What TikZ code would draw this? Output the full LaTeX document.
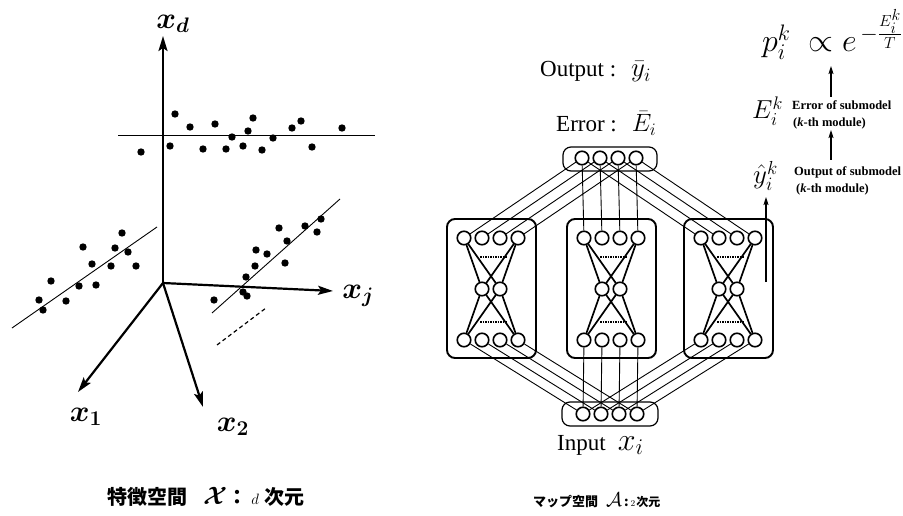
\documentclass[tikz,border=0pt]{standalone}
\usepackage{fix-cm}
\usepackage{amsmath}
\usepackage{fontspec}
\setmainfont{Liberation Serif}
\newfontfamily\cjk{Noto Sans CJK JP}
\usetikzlibrary{arrows.meta}
\tikzset{
  axis/.style={line width=2.2pt,-{Stealth[length=15pt,width=9pt,inset=3pt]}},
  dataline/.style={line width=0.9pt},
  dotmark/.style={fill=black},
  neuron/.style={circle,draw,line width=1.6pt,minimum size=13.5pt,inner sep=0pt},
  modbox/.style={draw,line width=1.9pt,rounded corners=8pt,inner sep=0pt},
  layerbox/.style={draw,line width=1.2pt,rounded corners=8pt,inner sep=0pt},
  conn/.style={line width=0.9pt},
  xconn/.style={line width=1.7pt},
  dotsep/.style={line width=1.4pt,dash pattern=on 1.5pt off 1pt},
  uparrow/.style={line width=1.2pt,-{Stealth[length=8pt,width=5pt,inset=1.5pt]}},
  axlabel/.style={font=\fontsize{30}{32}\selectfont,inner sep=0pt},
  biglabel/.style={font=\fontsize{23}{26}\selectfont,inner sep=0pt},
  smalltxt/.style={font=\fontsize{12.5}{14}\selectfont\bfseries,inner sep=0pt,anchor=base west}
}
\begin{document}
\begin{tikzpicture}[x=1pt,y=-1pt]
\useasboundingbox[fill=white] (0,0) rectangle (903,516);

% ---------- left: feature space ----------
\coordinate (O) at (163,283);
\coordinate (xdtip) at (163,36);
\coordinate (xjtip) at (333,291);
\coordinate (x1tip) at (78,392);
\coordinate (x2tip) at (203,407);
\draw[axis] (O) -- (xdtip);
\draw[axis] (O) -- (xjtip);
\draw[axis] (O) -- (x1tip);
\draw[axis] (O) -- (x2tip);
\node[axlabel] (lxd) at (173,24) {$\boldsymbol{x_d}$};
\node[axlabel] (lxj) at (358,296) {$\boldsymbol{x_j}$};
\node[axlabel] (lx1) at (86,417) {$\boldsymbol{x_1}$};
\node[axlabel] (lx2) at (233,427) {$\boldsymbol{x_2}$};

\coordinate (h1) at (118,135); \coordinate (h2) at (375,135);
\coordinate (l1) at (12,328);  \coordinate (l2) at (157,227);
\coordinate (r1) at (212,313); \coordinate (r2) at (340,199);
\coordinate (d1) at (217,345); \coordinate (d2) at (266,308);
\draw[dataline] (h1) -- (h2);
\draw[dataline] (l1) -- (l2);
\draw[dataline] (r1) -- (r2);
\draw[line width=1.2pt,dash pattern=on 4pt off 3pt] (d1) -- (d2);

\foreach \p in {(175,114),(190,127),(215,124),(253,118),(248,131),(232,137),(292,128),(301,121),(342,128),(273,138),(141,152),(170,146),(203,149),(226,149),(243,146),(262,150),(312,147),
  (122,233),(83,247),(115,248),(128,252),(92,264),(111,266),(136,266),(51,281),(79,286),(96,285),(39,300),(66,301),(43,310),
  (321,219),(305,226),(279,228),(317,232),(287,241),(256,250),(267,254),(255,266),(285,263),(246,277),(243,292),(247,296),(214,300)}
  \fill[dotmark] \p circle (3.7);

\node[font=\fontsize{20}{24}\selectfont,inner sep=0pt,anchor=west] (capL) at (107,497)
  {{\cjk\bfseries 特徴空間}\hspace{16pt}{\fontsize{25}{26}\selectfont$\boldsymbol{\mathcal{X}}$}{\cjk\bfseries ：}\hspace{4pt}{\fontsize{15}{16}\selectfont$d$}\hspace{6pt}{\cjk\bfseries 次元}};

% ---------- right: modular network ----------
\node[layerbox,minimum width=94pt,minimum height=24pt] (Ebox) at (610,159) {};
\node[layerbox,minimum width=96pt,minimum height=24pt] (Ibox) at (610,414) {};
\foreach \i/\x in {1/582,2/600,3/618,4/636}{
  \node[neuron] (E\i) at (\x,158) {};
  \node[neuron] (I\i) at (\x+1,414) {};
}
\foreach \m/\b in {L/464,M/584,R/701}{
  \node[modbox,minimum width=89pt,minimum height=139pt] (\m box) at (\b+27.5,288.5) {};
  \foreach \i in {1,2,3,4}{
    \node[neuron] (\m t\i) at ({\b+18*(\i-1)},238) {};
    \node[neuron] (\m b\i) at ({\b+18*(\i-1)},340) {};
  }
  \node[neuron] (\m c1) at (\b+18,289) {};
  \node[neuron] (\m c2) at (\b+36,289) {};
  \draw[xconn] (\m t1) -- (\m c1); \draw[xconn] (\m t1) -- (\m c2);
  \draw[xconn] (\m t4) -- (\m c1); \draw[xconn] (\m t4) -- (\m c2);
  \draw[xconn] (\m b1) -- (\m c1); \draw[xconn] (\m b1) -- (\m c2);
  \draw[xconn] (\m b4) -- (\m c1); \draw[xconn] (\m b4) -- (\m c2);
  \draw[dotsep] (\b+16,257) -- (\b+43,257);
  \draw[dotsep] (\b+16,322) -- (\b+43,322);
  \foreach \i in {1,2,3,4}{
    \draw[conn] (\m t\i) -- (E\i);
    \draw[conn] (\m b\i) -- (I\i);
  }
}

\node[biglabel,anchor=base west] (outl) at (540,77) {Output :\hspace{15pt}{\fontsize{27}{28}\selectfont$\bar{y}_{i}$}};
\node[biglabel,anchor=base west] (errl) at (556,132) {Error :\hspace{15pt}{\fontsize{25}{28}\selectfont$\bar{E}_{i}$}};
\node[biglabel,anchor=base west] (inl) at (557,450) {Input\hspace{12pt}{\fontsize{32}{34}\selectfont$x_{i}$}};

% ---------- right column ----------
\node[inner sep=0pt,anchor=base west,font=\fontsize{32}{34}\selectfont] (pform) at (762,52) {$p_{i}^{k}\;\propto e^{\,-\frac{E_i^k}{T}}$};
\node[inner sep=0pt,anchor=base west,font=\fontsize{26}{28}\selectfont] (Ek) at (752,119) {$E_{i}^{k}$};
\node[smalltxt] (Et1) at (792,110) {Error of submodel};
\node[smalltxt] (Et2) at (793,127) {(\textit{k}-th module)};
\node[inner sep=0pt,anchor=base west,font=\fontsize{27}{28}\selectfont] (yk) at (753,184) {$\hat{y}_{i}^{k}$};
\node[smalltxt] (yt1) at (794,176) {Output of submodel};
\node[smalltxt] (yt2) at (796,193) {(\textit{k}-th module)};
\coordinate (a1s) at (831,97); \coordinate (a1e) at (831,66);
\coordinate (a2s) at (831,160); \coordinate (a2e) at (831,130);
\coordinate (a3s) at (766,282); \coordinate (a3e) at (766,197);
\draw[uparrow] (a1s) -- (a1e);
\draw[uparrow] (a2s) -- (a2e);
\draw[uparrow] (a3s) -- (a3e);

\node[font=\fontsize{13}{15}\selectfont,inner sep=0pt,anchor=west] (capR) at (533,500)
  {{\cjk\bfseries マップ空間}\hspace{8pt}{\fontsize{20}{22}\selectfont$\mathcal{A}$}\hspace{2pt}{\cjk\bfseries :}\hspace{2pt}{\fontsize{9}{10}\selectfont$2$}\hspace{1pt}{\fontsize{12}{14}\selectfont\cjk\bfseries 次元}};
\end{tikzpicture}
\end{document}
